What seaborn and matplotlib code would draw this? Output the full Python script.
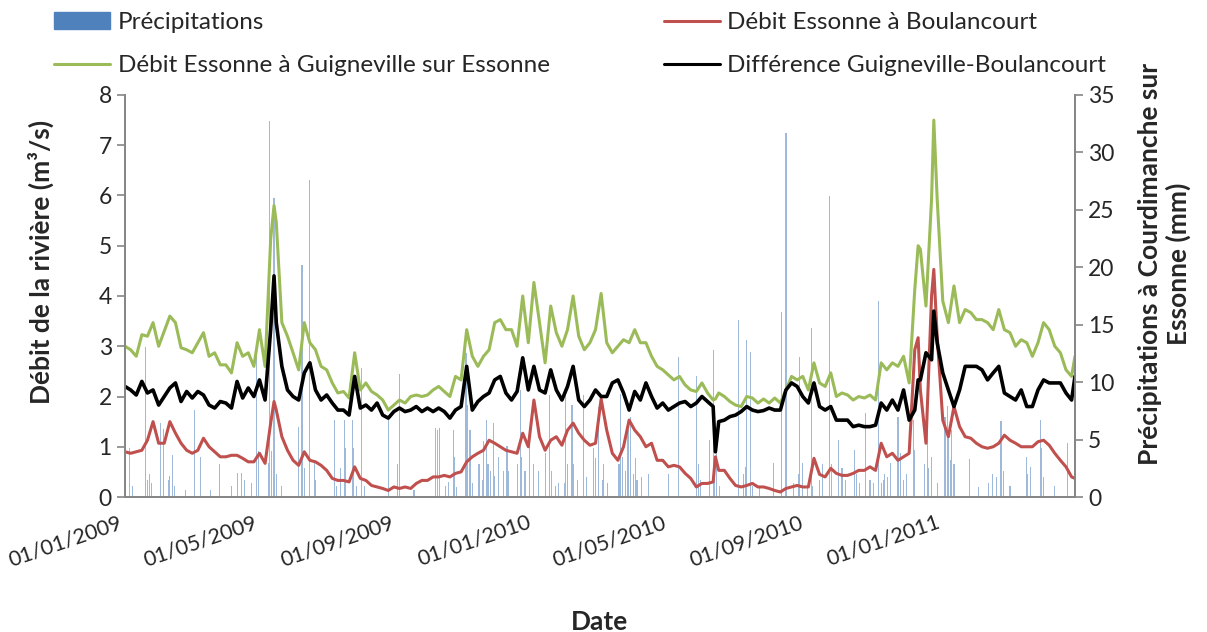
import matplotlib
matplotlib.use("Agg")
import matplotlib.pyplot as plt
import matplotlib.dates as mdates
from matplotlib.patches import Patch
from matplotlib.lines import Line2D
import pandas as pd
import seaborn as sns

# jours depuis le 01/01/2009 (relevés)
jours = [
    0, 5, 10, 15, 20, 25, 30, 35, 40, 45,
    50, 55, 60, 65, 70, 75, 80, 85, 90, 95,
    100, 105, 110, 115, 120, 125, 130, 133, 135, 140,
    145, 150, 155, 160, 165, 170, 175, 180, 185, 190,
    195, 200, 205, 210, 215, 220, 225, 230, 235, 240,
    245, 250, 255, 260, 265, 270, 275, 280, 285, 290,
    295, 300, 305, 310, 315, 320, 325, 330, 335, 340,
    345, 350, 355, 360, 365, 370, 375, 380, 385, 390,
    395, 400, 405, 410, 415, 420, 425, 430, 435, 440,
    445, 450, 455, 460, 465, 470, 475, 480, 485, 490,
    495, 500, 505, 510, 515, 520, 525, 527, 530, 535,
    540, 545, 550, 555, 560, 565, 570, 575, 580, 585,
    590, 595, 600, 605, 610, 615, 620, 625, 630, 635,
    640, 645, 650, 655, 660, 665, 670, 675, 680, 685,
    690, 695, 700, 705, 708, 710, 715, 720, 722, 725,
    730, 735, 740, 745, 750, 755, 760, 765, 770, 775,
    780, 785, 790, 795, 800, 805, 810, 815, 820, 825,
    830, 835, 840, 845, 848]

debit_guigneville = [
    3.0, 2.93, 2.8, 3.23, 3.2, 3.47, 3.0, 3.3, 3.6, 3.47,
    2.97, 2.93, 2.87, 3.07, 3.27, 2.8, 2.87, 2.63, 2.63, 2.47,
    3.07, 2.8, 2.87, 2.6, 3.33, 2.6, 5.13, 5.8, 5.47, 3.47,
    3.2, 2.87, 2.53, 3.47, 3.07, 2.93, 2.6, 2.53, 2.27, 2.07,
    2.1, 1.97, 2.87, 2.13, 2.27, 2.1, 2.03, 1.93, 1.73, 1.83,
    1.93, 1.87, 2.0, 2.03, 2.0, 2.03, 2.13, 2.2, 2.1, 2.0,
    2.4, 2.33, 3.33, 2.8, 2.6, 2.8, 2.93, 3.47, 3.53, 3.33,
    3.33, 3.0, 4.0, 3.07, 4.27, 3.47, 2.67, 3.8, 3.27, 3.0,
    3.33, 4.0, 3.2, 2.93, 3.07, 3.33, 4.05, 3.07, 2.87, 3.0,
    3.13, 3.07, 3.33, 3.07, 3.07, 2.8, 2.6, 2.53, 2.43, 2.33,
    2.4, 2.23, 2.13, 2.1, 2.27, 2.07, 1.93, 1.95, 2.07, 2.0,
    1.9, 1.83, 1.8, 2.0, 1.97, 1.87, 1.95, 1.87, 1.97, 1.87,
    2.13, 2.4, 2.33, 2.4, 2.13, 2.67, 2.27, 2.2, 2.47, 2.0,
    2.07, 2.03, 1.93, 2.0, 1.97, 2.03, 1.93, 2.67, 2.53, 2.67,
    2.6, 2.8, 2.27, 4.13, 5.0, 4.93, 3.8, 5.93, 7.5, 5.93,
    3.9, 3.47, 4.2, 3.47, 3.73, 3.67, 3.53, 3.53, 3.47, 3.33,
    3.73, 3.33, 3.27, 3.0, 3.13, 3.07, 2.8, 3.07, 3.47, 3.33,
    3.0, 2.87, 2.53, 2.4, 2.8]

debit_boulancourt = [
    0.9, 0.87, 0.9, 0.93, 1.13, 1.5, 1.07, 1.07, 1.5, 1.27,
    1.07, 0.93, 0.87, 0.93, 1.17, 1.0, 0.9, 0.8, 0.8, 0.83,
    0.83, 0.77, 0.7, 0.7, 0.87, 0.67, 1.47, 1.9, 1.73, 1.2,
    0.93, 0.73, 0.63, 0.9, 0.73, 0.7, 0.63, 0.53, 0.37, 0.33,
    0.33, 0.3, 0.6, 0.37, 0.33, 0.23, 0.2, 0.17, 0.13, 0.2,
    0.17, 0.2, 0.17, 0.27, 0.33, 0.33, 0.4, 0.4, 0.43, 0.4,
    0.47, 0.5, 0.7, 0.8, 0.87, 0.93, 1.13, 1.07, 1.0, 0.93,
    0.9, 0.87, 1.27, 1.0, 1.93, 1.2, 0.93, 1.13, 1.2, 1.03,
    1.33, 1.47, 1.27, 1.13, 1.03, 1.07, 1.95, 1.33, 0.87, 0.73,
    1.0, 1.53, 1.33, 1.2, 1.0, 1.07, 0.73, 0.73, 0.6, 0.63,
    0.6, 0.47, 0.37, 0.2, 0.27, 0.27, 0.3, 0.8, 0.53, 0.53,
    0.37, 0.23, 0.2, 0.23, 0.27, 0.2, 0.2, 0.17, 0.13, 0.1,
    0.17, 0.2, 0.23, 0.2, 0.2, 0.77, 0.45, 0.4, 0.57, 0.47,
    0.43, 0.43, 0.47, 0.53, 0.53, 0.6, 0.53, 1.07, 0.8, 0.87,
    0.73, 0.8, 0.87, 2.93, 3.17, 2.13, 1.07, 4.0, 4.53, 3.2,
    1.53, 1.2, 1.8, 1.4, 1.2, 1.17, 1.07, 1.0, 0.97, 1.0,
    1.07, 1.23, 1.13, 1.07, 1.0, 1.0, 1.0, 1.1, 1.13, 1.03,
    0.87, 0.73, 0.6, 0.4, 0.37]

difference = [
    2.2, 2.13, 2.03, 2.3, 2.07, 2.13, 1.83, 2.0, 2.17, 2.27,
    1.9, 2.1, 1.97, 2.1, 2.03, 1.83, 1.77, 1.9, 1.87, 1.77,
    2.3, 1.97, 2.17, 2.0, 2.33, 1.93, 3.33, 4.4, 3.47, 2.6,
    2.13, 2.0, 1.93, 2.47, 2.67, 2.13, 1.93, 2.03, 1.87, 1.73,
    1.73, 1.63, 2.4, 1.77, 1.83, 1.73, 1.87, 1.63, 1.57, 1.7,
    1.77, 1.7, 1.73, 1.8, 1.7, 1.77, 1.7, 1.77, 1.7, 1.57,
    1.73, 1.8, 2.6, 1.73, 1.9, 2.0, 2.07, 2.33, 2.4, 2.07,
    1.93, 2.1, 2.77, 2.13, 2.6, 2.13, 2.07, 2.53, 2.13, 1.93,
    2.2, 2.6, 1.93, 1.8, 1.93, 2.13, 2.0, 2.0, 2.27, 2.33,
    2.07, 1.73, 2.1, 1.93, 2.27, 2.0, 1.77, 1.87, 1.73, 1.8,
    1.87, 1.9, 1.8, 1.87, 2.0, 1.9, 1.8, 0.9, 1.5, 1.53,
    1.6, 1.63, 1.7, 1.8, 1.73, 1.7, 1.72, 1.77, 1.73, 1.73,
    2.13, 2.27, 2.2, 2.0, 1.87, 2.27, 1.8, 1.73, 1.8, 1.53,
    1.53, 1.53, 1.4, 1.43, 1.4, 1.4, 1.43, 1.87, 1.73, 1.93,
    1.73, 2.13, 1.53, 1.73, 2.33, 2.33, 2.87, 2.73, 3.7, 3.07,
    2.47, 2.13, 1.8, 2.13, 2.6, 2.6, 2.6, 2.53, 2.33, 2.47,
    2.6, 2.07, 2.0, 1.93, 2.13, 1.8, 1.8, 2.13, 2.33, 2.27,
    2.27, 2.27, 2.07, 1.93, 2.4]

# précipitations journalières (jour, mm)
pluie_jours = [
    4, 7, 18, 20, 22, 24, 32, 34, 39, 40,
    42, 44, 54, 62, 67, 76, 84, 95, 100, 104,
    107, 113, 117, 119, 128, 129, 131, 133, 135, 140,
    155, 158, 160, 165, 169, 170, 187, 189, 192, 196,
    197, 203, 204, 207, 211, 214, 235, 243, 245, 258,
    277, 279, 281, 286, 289, 293, 294, 296, 304, 305,
    306, 308, 310, 316, 319, 320, 323, 324, 326, 329,
    330, 333, 338, 341, 342, 350, 353, 354, 357, 361,
    365, 369, 375, 379, 381, 384, 387, 392, 393, 395,
    399, 400, 404, 409, 412, 418, 420, 423, 426, 427,
    431, 441, 442, 444, 447, 449, 451, 454, 456, 457,
    461, 467, 485, 494, 510, 512, 514, 522, 525, 526,
    528, 531, 548, 552, 554, 555, 558, 560, 566, 579,
    586, 590, 597, 601, 602, 605, 609, 613, 614, 620,
    623, 629, 631, 637, 640, 643, 651, 653, 656, 661,
    665, 668, 673, 675, 677, 678, 681, 683, 690, 692,
    695, 698, 704, 705, 714, 716, 717, 720, 725, 732,
    734, 735, 737, 738, 740, 754, 762, 771, 774, 778,
    782, 784, 790, 805, 806, 808, 817, 818, 820, 830,
    841]
pluie_mm = [
    4.3, 1.0, 13.1, 1.5, 2.0, 1.2, 6.4, 5.9, 1.5, 1.8,
    3.7, 1.0, 0.6, 7.6, 3.5, 0.6, 2.9, 1.0, 2.1, 2.1,
    1.5, 1.2, 12.2, 4.0, 3.0, 32.7, 4.0, 26.0, 2.0, 1.0,
    6.1, 20.2, 2.5, 27.6, 3.0, 1.5, 6.7, 1.0, 2.5, 6.7,
    4.3, 6.7, 4.3, 1.0, 11.2, 1.0, 6.7, 2.9, 10.7, 0.6,
    6.0, 5.8, 6.0, 1.0, 1.3, 5.8, 3.5, 0.9, 13.1, 12.5,
    8.0, 5.8, 1.2, 2.9, 1.5, 4.9, 6.7, 2.9, 2.3, 6.4,
    1.8, 3.5, 2.3, 4.4, 2.3, 2.9, 9.3, 3.5, 2.3, 6.1,
    2.9, 2.3, 3.8, 8.9, 2.3, 1.0, 1.2, 1.2, 8.9, 2.9,
    8.0, 2.9, 1.5, 8.9, 1.7, 4.3, 3.4, 7.8, 1.5, 2.9,
    1.2, 2.9, 9.0, 3.5, 2.3, 5.8, 7.0, 2.0, 3.4, 1.5,
    1.7, 2.0, 2.0, 12.2, 10.5, 2.9, 1.5, 5.0, 12.8, 3.5,
    4.0, 1.0, 15.4, 2.0, 2.6, 13.7, 12.6, 1.0, 1.0, 3.0,
    16.1, 31.7, 1.2, 2.0, 12.2, 3.0, 1.0, 14.7, 1.0, 1.5,
    2.9, 26.2, 2.9, 5.0, 2.5, 1.5, 4.1, 2.0, 1.2, 7.3,
    1.5, 1.2, 17.1, 1.2, 1.5, 2.0, 1.7, 3.0, 7.0, 3.8,
    1.5, 2.0, 6.7, 4.1, 2.9, 9.9, 2.5, 3.5, 1.2, 7.0,
    7.9, 5.8, 3.2, 5.8, 2.9, 3.3, 0.9, 1.2, 2.0, 1.7,
    6.6, 2.3, 1.0, 3.5, 2.0, 2.6, 6.7, 4.3, 1.7, 1.0,
    4.7]

BLEU = "#4F81BD"
ROUGE = "#C0504D"
VERT = "#9BBB59"
GRIS = "#868686"

sns.set_style("white")
plt.rcParams["font.family"] = ["Lato", "DejaVu Sans"]

debut = pd.Timestamp("2009-01-01")
dates = debut + pd.to_timedelta(jours, unit="D")
dates_pluie = debut + pd.to_timedelta(pluie_jours, unit="D")

fig, ax = plt.subplots(figsize=(12.07, 6.32), dpi=100)
fig.subplots_adjust(left=0.1036, right=0.8906, top=0.8497, bottom=0.2136)
ax2 = ax.twinx()
ax.set_zorder(ax2.get_zorder() + 1)
ax.patch.set_visible(False)

ax2.bar(dates_pluie, pluie_mm, width=1.0, color=BLEU, alpha=0.55, linewidth=0)

sns.lineplot(x=dates, y=debit_boulancourt, ax=ax, color=ROUGE, lw=2.2)
sns.lineplot(x=dates, y=debit_guigneville, ax=ax, color=VERT, lw=2.2)
sns.lineplot(x=dates, y=difference, ax=ax, color="black", lw=2.6)

ax.set_xlim(debut, debut + pd.Timedelta(days=848))
ax.set_ylim(0, 8)
ax.set_yticks(range(0, 9))
ax2.set_ylim(0, 35)
ax2.set_yticks(range(0, 36, 5))

for a in (ax, ax2):
    a.spines["top"].set_visible(False)
    for s in ("left", "right", "bottom"):
        a.spines[s].set_color(GRIS)
        a.spines[s].set_linewidth(1.3)
    a.tick_params(direction="out", length=6, width=1.2, color=GRIS, labelsize=16.5)
ax.tick_params(axis="x", pad=5, labelsize=15.5)

ax.xaxis.set_major_locator(mdates.MonthLocator(bymonth=[1, 5, 9]))
ax.xaxis.set_major_formatter(mdates.DateFormatter("%d/%m/%Y"))
plt.setp(ax.get_xticklabels(), rotation=19, ha="right", rotation_mode="default")

ax.set_xlabel("Date", fontsize=19, fontweight="bold")
ax.xaxis.set_label_coords(0.5, -0.28)
ax.set_ylabel("Débit de la rivière (m³/s)", fontsize=19, fontweight="bold")
ax.yaxis.set_label_coords(-0.075, 0.585)
ax2.set_ylabel("Précipitations à Courdimanche sur\nEssonne (mm)", fontsize=19,
               fontweight="bold", linespacing=1.2)
ax2.yaxis.set_label_coords(1.066, 0.58)

handles = [
    Patch(facecolor=BLEU, edgecolor=BLEU),
    Line2D([], [], color=VERT, lw=2.2),
    Line2D([], [], color=ROUGE, lw=2.2),
    Line2D([], [], color="black", lw=2.2),
]
labels = [
    "Précipitations",
    "Débit Essonne à Guigneville sur Essonne",
    "Débit Essonne à Boulancourt",
    "Différence Guigneville-Boulancourt",
]
fig.legend(handles, labels, ncol=2, loc="upper left", bbox_to_anchor=(0.045, 0.981),
           frameon=False, fontsize=17.5, handlelength=2.3, handletextpad=0.3,
           columnspacing=4.7, labelspacing=0.92, borderaxespad=0, borderpad=0)

fig.savefig("out.png", dpi=100)
